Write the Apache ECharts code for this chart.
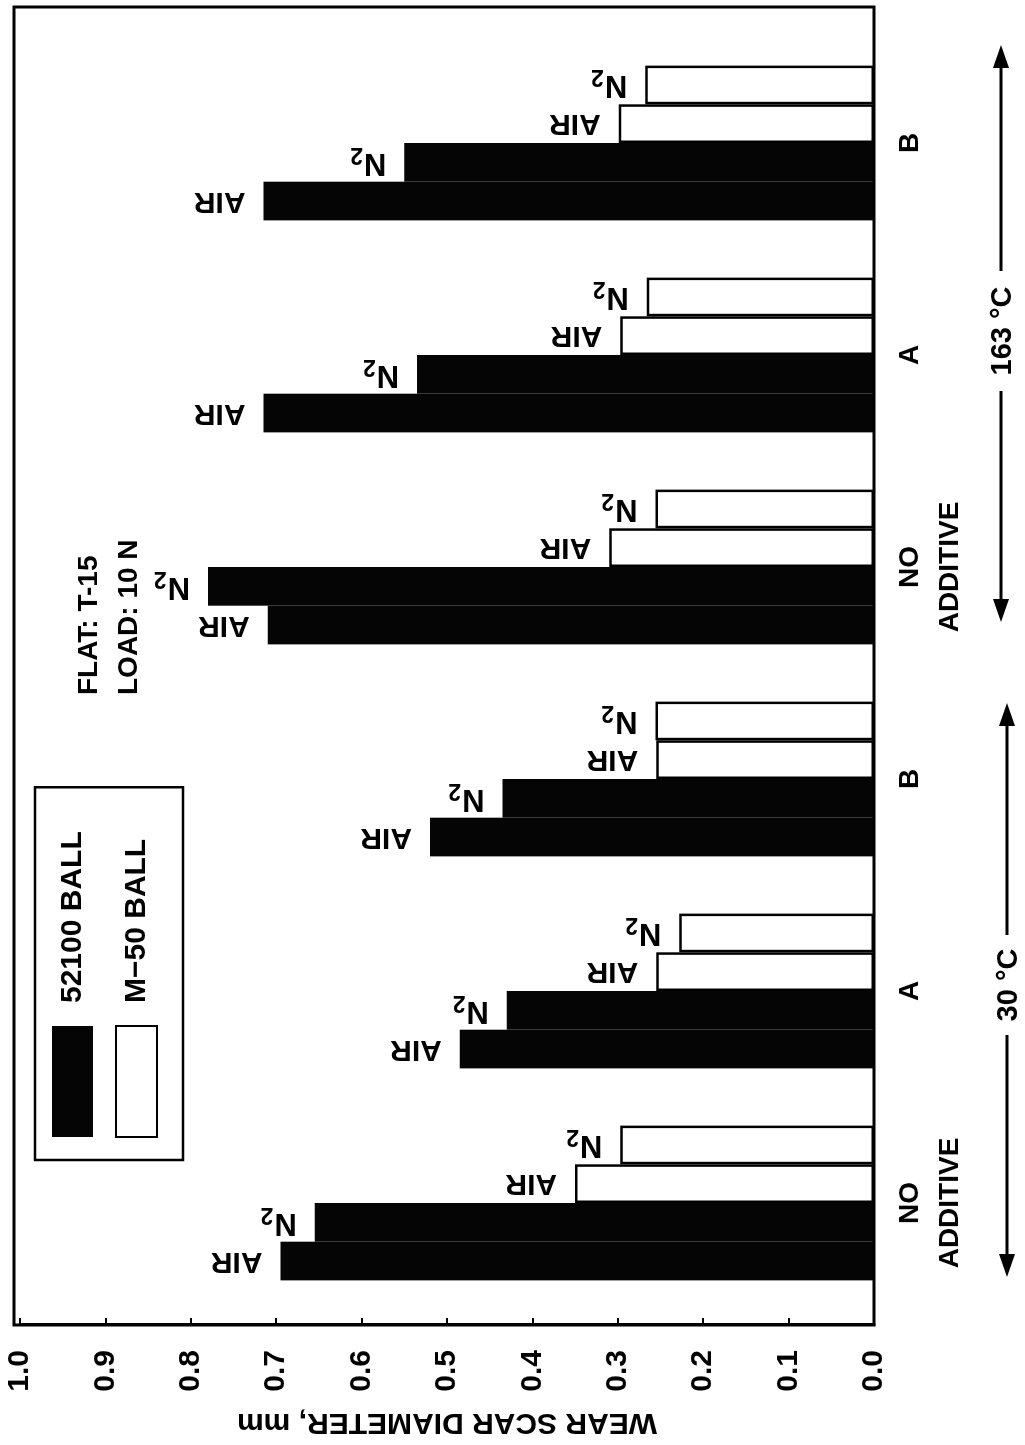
<!DOCTYPE html>
<html><head><meta charset="utf-8">
<script src="https://cdn.jsdelivr.net/npm/echarts@6/dist/echarts.min.js"></script>
<style>
html,body{margin:0;padding:0;background:#fff;overflow:hidden;width:1025px;height:1445px}
#wrap{position:absolute;left:0;top:0;width:1445px;height:1025px;transform-origin:0 0;transform:translate(0,1445px) rotate(-90deg);}
</style></head><body><div id="wrap"></div>
<script>
// ---- data (the original figure is a vertical bar chart printed rotated 90° CCW) ----
const categories = ['NO\nADDITIVE', 'A', 'B', 'NO\nADDITIVE', 'A', 'B'];
const ball52100Air = [0.695, 0.485, 0.520, 0.710, 0.715, 0.715];
const ball52100N2  = [0.655, 0.430, 0.435, 0.780, 0.535, 0.550];
const m50Air       = [0.350, 0.255, 0.255, 0.310, 0.297, 0.299];
const m50N2        = [0.297, 0.228, 0.256, 0.256, 0.266, 0.268];
const valueTicks   = ['0.0','0.1','0.2','0.3','0.4','0.5','0.6','0.7','0.8','0.9','1.0'];
const tempLabels   = ['30 °C', '163 °C'];
const condLines    = ['FLAT: T-15', 'LOAD: 10 N'];

const FONT = "'Liberation Sans', Arial, Helvetica, sans-serif";
const chart = echarts.init(document.getElementById('wrap'), null, {renderer: 'canvas', width: 1445, height: 1025});

function barLabel(kind) {
  const base = {
    show: true, position: 'top', distance: 18, rotate: 90,
    align: 'left', verticalAlign: 'middle',
    color: '#000', fontFamily: FONT, fontWeight: 'bold', fontSize: 30
  };
  if (kind === 'air') {
    base.formatter = 'AIR';
  } else {
    base.formatter = '{n|N}{s|2}';
    base.rich = {
      n: {fontFamily: FONT, fontWeight: 'bold', fontSize: 31, color: '#000', lineHeight: 40},
      s: {fontFamily: FONT, fontWeight: 'bold', fontSize: 23, color: '#000', lineHeight: 10, verticalAlign: 'bottom', padding: [0, 0, 0, 1]}
    };
  }
  return base;
}

const black = {color: '#050505'};
const white = {color: '#ffffff', borderColor: '#000', borderWidth: 2.5};

// annotation arrows (in the unrotated frame of the chart)
function arrowGroup(text, u0, u1, textC, textHalf, v) {
  const els = [];
  const gap = 12;
  els.push({type: 'line', shape: {x1: u0 + 10, y1: v, x2: textC - textHalf - gap, y2: v}, style: {stroke: '#000', lineWidth: 3}});
  els.push({type: 'line', shape: {x1: textC + textHalf + gap, y1: v, x2: u1 - 10, y2: v}, style: {stroke: '#000', lineWidth: 3}});
  els.push({type: 'polygon', shape: {points: [[u0, v], [u0 + 23, v - 8], [u0 + 23, v + 8]]}, style: {fill: '#000'}});
  els.push({type: 'polygon', shape: {points: [[u1, v], [u1 - 23, v - 8], [u1 - 23, v + 8]]}, style: {fill: '#000'}});
  els.push({type: 'text', x: textC, y: v + 2, style: {text: text, textAlign: 'center', textVerticalAlign: 'middle', align: 'center', verticalAlign: 'middle', fill: '#000', font: 'bold 29px ' + FONT}});
  return els;
}

const option = {
  backgroundColor: '#fff',
  animation: false,
  textStyle: {fontFamily: FONT},
  title: {
    text: condLines.join('\n'), left: 745, top: 64,
    textStyle: {fontFamily: FONT, fontWeight: 'bold', fontSize: 28, lineHeight: 40, color: '#000'}
  },
  legend: {
    orient: 'vertical', left: 285, top: 35,
    padding: [17, 44, 25, 22],
    borderColor: '#000', borderWidth: 2.5,
    itemWidth: 111, itemHeight: 41, itemGap: 22,
    icon: 'rect',
    data: ['52100 BALL', 'M\u221250 BALL'],
    textStyle: {fontFamily: FONT, fontWeight: 'bold', fontSize: 30, color: '#000', padding: [0, 0, 0, 18]}
  },
  grid: {left: 136, right: 37, top: 20, bottom: 151, containLabel: false, outerBoundsMode: 'none'},
  xAxis: {
    type: 'category', data: categories,
    axisLine: {show: false}, axisTick: {show: false},
    axisLabel: {color: '#000', fontFamily: FONT, fontWeight: 'bold', fontSize: 28, lineHeight: 40, margin: 16, interval: 0}
  },
  yAxis: {
    type: 'value', min: 0, max: 1, interval: 0.1, offset: 16,
    axisLine: {show: true, lineStyle: {color: '#000', width: 3}},
    axisTick: {show: true, inside: true, length: 7, lineStyle: {color: '#000', width: 2}},
    splitLine: {show: false},
    axisLabel: {color: '#000', fontFamily: FONT, fontWeight: 'bold', fontSize: 30, margin: 25,
      formatter: (v) => valueTicks[Math.round(v * 10)]},
    name: 'WEAR SCAR DIAMETER, mm', nameLocation: 'middle', nameRotate: 90, nameGap: 82,
    nameTextStyle: {color: '#000', fontFamily: FONT, fontWeight: 'bold', fontSize: 30}
  },
  series: [
    {name: '52100 BALL', type: 'bar', data: ball52100Air, barGap: '0%', barCategoryGap: '27%', itemStyle: black, label: barLabel('air')},
    {name: '52100 BALL', type: 'bar', data: ball52100N2, itemStyle: black, label: barLabel('n2')},
    {name: 'M\u221250 BALL', type: 'bar', data: m50Air, itemStyle: white, label: barLabel('air')},
    {name: 'M\u221250 BALL', type: 'bar', data: m50N2, itemStyle: white, label: barLabel('n2')}
  ],
  graphic: {
    elements: [
      {type: 'rect', z: 100, shape: {x: 120, y: 14, width: 1318, height: 860}, style: {fill: 'none', stroke: '#000', lineWidth: 3}}
    ].concat(arrowGroup(tempLabels[0], 168, 742, 460, 38, 1007))
     .concat(arrowGroup(tempLabels[1], 823, 1400, 1114, 48, 1001))
  }
};
chart.setOption(option);
</script></body></html>
